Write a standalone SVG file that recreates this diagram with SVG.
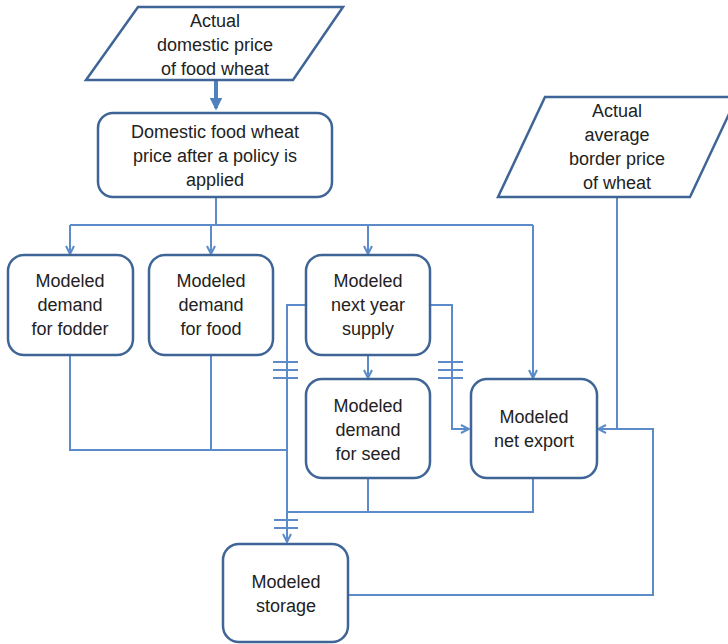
<svg xmlns="http://www.w3.org/2000/svg" width="728" height="644" viewBox="0 0 728 644">
<defs>
<style>
.box{fill:#fff;stroke:#3f6597;stroke-width:2.5}
.c{fill:none;stroke:#5b8bc8;stroke-width:2}
.h{fill:none;stroke:#5b8bc8;stroke-width:2}
text{font-family:"Liberation Sans",Arial,sans-serif;font-size:18px;fill:#222;text-anchor:middle}
</style>
<marker id="a" viewBox="0 0 10 10" refX="9" refY="5" markerWidth="5" markerHeight="5" orient="auto" markerUnits="strokeWidth">
<path d="M1,1 L9,5 L1,9" fill="none" stroke="#5b8bc8" stroke-width="2"/>
</marker>
<marker id="ab" viewBox="0 0 10 10" refX="8" refY="5" markerWidth="3.2" markerHeight="3.2" orient="auto" markerUnits="strokeWidth">
<path d="M0,0 L10,5 L0,10 Z" fill="#4f81bd"/>
</marker>
</defs>
<rect width="728" height="644" fill="#fff"/>
<g id="connectors">
<path d="M216,81 V108" fill="none" stroke="#4f81bd" stroke-width="4" marker-end="url(#ab)"/>
<path class="c" d="M216,197 V225"/>
<path class="c" d="M70,225 H533"/>
<path class="c" d="M70,225 V254" marker-end="url(#a)"/>
<path class="c" d="M211,225 V254" marker-end="url(#a)"/>
<path class="c" d="M368,225 V254" marker-end="url(#a)"/>
<path class="c" d="M533,225 V378" marker-end="url(#a)"/>
<path class="c" d="M368,355 V378" marker-end="url(#a)"/>
<path class="c" d="M306,305 H287 V542" marker-end="url(#a)"/>
<path class="c" d="M430,305 H452 V429 H469" marker-end="url(#a)"/>
<path class="c" d="M70,355 V450 H287"/>
<path class="c" d="M211,355 V450"/>
<path class="c" d="M368,478 V512"/>
<path class="c" d="M533,478 V512 H287"/>
<path class="c" d="M617,197 V429"/>
<path class="c" d="M348,595 H653 V429 H598" marker-end="url(#a)"/>
<path class="h" d="M273,362 H298 M273,370 H298 M273,378 H298"/>
<path class="h" d="M438,362 H463 M438,370 H463 M438,378 H463"/>
<path class="h" d="M274,520 H298 M274,528 H298"/>
</g>
<g id="actual-domestic">
<path class="box" d="M138,7 H343 L293,80 H86 Z"/>
<text x="215" y="27">Actual</text>
<text x="215" y="51">domestic price</text>
<text x="215" y="75">of food wheat</text>
</g>
<g id="domestic-policy">
<rect class="box" x="98" y="113" width="234" height="84" rx="15"/>
<text x="215" y="138">Domestic food wheat</text>
<text x="215" y="162">price after a policy is</text>
<text x="215" y="186">applied</text>
</g>
<g id="border-price">
<path class="box" d="M545,97 H737 L690,197 H498 Z"/>
<text x="617" y="117">Actual</text>
<text x="617" y="141">average</text>
<text x="617" y="165">border price</text>
<text x="617" y="189">of wheat</text>
</g>
<g id="fodder">
<rect class="box" x="8" y="255" width="125" height="100" rx="16"/>
<text x="70" y="287">Modeled</text>
<text x="70" y="311">demand</text>
<text x="70" y="335">for fodder</text>
</g>
<g id="food">
<rect class="box" x="149" y="255" width="124" height="100" rx="16"/>
<text x="211" y="287">Modeled</text>
<text x="211" y="311">demand</text>
<text x="211" y="335">for food</text>
</g>
<g id="supply">
<rect class="box" x="306" y="255" width="124" height="100" rx="16"/>
<text x="368" y="287">Modeled</text>
<text x="368" y="311">next year</text>
<text x="368" y="335">supply</text>
</g>
<g id="seed">
<rect class="box" x="306" y="379" width="124" height="99" rx="16"/>
<text x="368" y="412">Modeled</text>
<text x="368" y="436">demand</text>
<text x="368" y="460">for seed</text>
</g>
<g id="net-export">
<rect class="box" x="471" y="379" width="126" height="99" rx="16"/>
<text x="534" y="423">Modeled</text>
<text x="534" y="447">net export</text>
</g>
<g id="storage">
<rect class="box" x="223" y="544" width="125" height="98" rx="16"/>
<text x="286" y="588">Modeled</text>
<text x="286" y="612">storage</text>
</g>
</svg>
